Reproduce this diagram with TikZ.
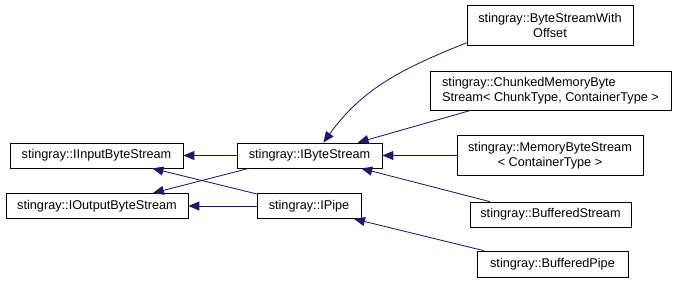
\documentclass[tikz,border=0pt]{standalone}
\usepackage{fontspec}
\setmainfont{Liberation Sans}
\usetikzlibrary{arrows.meta}
\definecolor{edgeblue}{RGB}{25,25,112}
\begin{document}
\begin{tikzpicture}[x=1bp, y=-1bp, >={Triangle[length=11bp,width=9bp]},
  cls/.style={draw, thick, rectangle, inner sep=0pt, minimum height=25bp,
    font=\fontsize{12.7bp}{15bp}\selectfont},
  inh/.style={<-, edgeblue, line width=0.85pt}]
\useasboundingbox (0,0) rectangle (677,284);
% base interfaces
\node[cls, minimum width=173bp] (iin) at (96.5,155.5) {stingray::IInputByteStream};
\node[cls, minimum width=182bp] (iout) at (97,206) {stingray::IOutputByteStream};
\node[cls, minimum width=145bp] (ibs) at (309.5,155.5) {stingray::IByteStream};
\node[cls, minimum width=104bp] (ipipe) at (309,206) {stingray::IPipe};
% implementations
\node[cls, minimum width=166bp, minimum height=40bp, align=center] (offs) at (550,25) {stingray::ByteStreamWith\\Offset};
\node[cls, minimum width=241bp, minimum height=39bp, align=left] (chunk) at (550.5,90.5) {stingray::ChunkedMemoryByte\\Stream< ChunkType, ContainerType >};
\node[cls, minimum width=186bp, minimum height=40bp, align=center] (mem) at (550,155.5) {stingray::MemoryByteStream\\< ContainerType >};
\node[cls, minimum width=161bp] (bufs) at (550.5,214.5) {stingray::BufferedStream};
\node[cls, minimum width=151bp, minimum height=26bp] (bufp) at (552.5,264) {stingray::BufferedPipe};

\draw[inh](iin.east)--(ibs.west);
\draw[inh](iout.13)--(ibs.192.5);
\draw[inh](iin.347)--(ipipe.167);
\draw[inh](iout.east)--(ipipe.west);
\draw[inh](ibs.43) to[out=54, in=202] (offs.192);
\draw[inh](ibs.15)--(chunk.194.5);
\draw[inh](ibs.east)--(mem.west);
\draw[inh](ibs.346.6)--(bufs.168.3);
\draw[inh](ipipe.344)--(bufp.169.6);
\end{tikzpicture}
\end{document}
